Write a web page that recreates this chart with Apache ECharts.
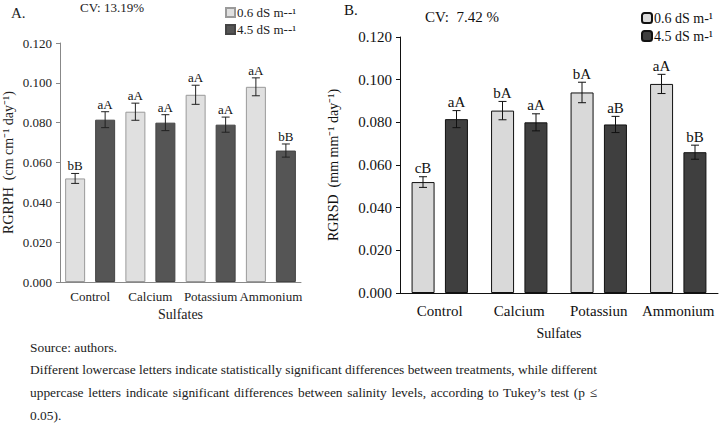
<!DOCTYPE html>
<html>
<head>
<meta charset="utf-8">
<script src="https://cdn.jsdelivr.net/npm/echarts@6/dist/echarts.min.js"></script>
<style>
  html, body { margin: 0; padding: 0; background: #fff; }
  #wrap { position: relative; width: 723px; height: 424px; overflow: hidden; }
  #chart { width: 723px; height: 424px; }
  .cap {
    position: absolute; left: 30px; width: 567px;
    font: 13.4px "Liberation Serif", "Times New Roman", serif; color: #222;
    line-height: 16px; white-space: nowrap;
  }
  .just { text-align: justify; text-align-last: justify; }
</style>
</head>
<body>
<div id="wrap">
  <div id="chart"></div>
  <div class="cap" style="top:340px">Source: authors.</div>
  <div class="cap just" style="top:362px">Different lowercase letters indicate statistically significant differences between treatments, while different</div>
  <div class="cap just" style="top:385px">uppercase letters indicate significant differences between salinity levels, according to Tukey’s test (p ≤</div>
  <div class="cap" style="top:408px">0.05).</div>
</div>
<script>
// categories
const catsA = ['Control', 'Calcium', 'Potassium', 'Ammonium']
const catsB = ['Control', 'Calcium', 'Potassiun', 'Ammonium']
// means (same in both panels)
const lowSalt = [0.052, 0.0855, 0.094, 0.098]
const highSalt = [0.0815, 0.080, 0.079, 0.066]
// error bar half-lengths
const lowErr = [0.0025, 0.0043, 0.0048, 0.0045]
const highErr = [0.004, 0.004, 0.0038, 0.0033]
// letters
const lettersLowA = ['bB', 'aA', 'aA', 'aA']
const lettersHighA = ['aA', 'aA', 'aA', 'bB']
const lettersLowB = ['cB', 'bA', 'bA', 'aA']
const lettersHighB = ['aA', 'aA', 'aB', 'bB']

const serif = '"Liberation Serif", "Times New Roman", serif'

const chart = echarts.init(document.getElementById('chart'), null, { renderer: 'svg' })

function errData(vals, errs, letters) {
  return vals.map((v, i) => [i, v, errs[i], letters[i]])
}

// error bar + significance letters above it
function errRender(offset, cap, color, font) {
  return function (params, api) {
    const c = api.coord([api.value(0), api.value(1)])
    const x = c[0] + offset
    const hi = api.coord([api.value(0), api.value(1) + api.value(2)])[1]
    const lo = api.coord([api.value(0), api.value(1) - api.value(2)])[1]
    const line = { stroke: color, lineWidth: 1 }
    return {
      type: 'group',
      children: [
        { type: 'line', shape: { x1: x, y1: hi, x2: x, y2: lo }, style: line },
        { type: 'line', shape: { x1: x - cap, y1: hi, x2: x + cap, y2: hi }, style: line },
        { type: 'line', shape: { x1: x - cap, y1: lo, x2: x + cap, y2: lo }, style: line },
        {
          type: 'text',
          style: {
            text: api.value(3), x: x, y: hi - 1,
            textAlign: 'center', textVerticalAlign: 'bottom',
            font: font, fill: '#111'
          }
        }
      ]
    }
  }
}

const option = {
  animation: false,
  grid: [
    { left: 53, top: 43, width: 248, height: 239 },
    { left: 400, top: 37, width: 318, height: 256 }
  ],
  legend: [
    {
      data: ['0.6 dS m--¹', '4.5 dS m--¹'],
      orient: 'vertical', left: 220, top: 1, itemGap: 4,
      itemWidth: 9, itemHeight: 9, icon: 'rect',
      textStyle: { fontFamily: serif, fontSize: 13, color: '#222', padding: [0, 0, 0, -3] }
    },
    {
      data: ['0.6 dS m-¹', '4.5 dS m-¹'],
      orient: 'vertical', left: 636, top: 6, itemGap: 4,
      itemWidth: 10, itemHeight: 10, icon: 'roundRect',
      textStyle: { fontFamily: serif, fontSize: 14, color: '#111', padding: [0, 0, 0, -3] }
    }
  ],
  xAxis: [
    {
      type: 'category', gridIndex: 0, data: catsA,
      name: 'Sulfates', nameLocation: 'middle', nameGap: 23,
      nameTextStyle: { fontFamily: serif, fontSize: 14, color: '#222' },
      axisLine: { lineStyle: { color: '#888' } },
      axisTick: { length: 5, lineStyle: { color: '#888' } },
      axisLabel: { fontFamily: serif, fontSize: 13, color: '#222', margin: 8, interval: 0 }
    },
    {
      type: 'category', gridIndex: 1, data: catsB,
      name: 'Sulfates', nameLocation: 'middle', nameGap: 33,
      nameTextStyle: { fontFamily: serif, fontSize: 14, color: '#111' },
      axisLine: { lineStyle: { color: '#111' } },
      axisTick: { length: 5, lineStyle: { color: '#111' } },
      axisLabel: { fontFamily: serif, fontSize: 15, color: '#111', margin: 10, interval: 0 }
    }
  ],
  yAxis: [
    {
      type: 'value', gridIndex: 0, min: 0, max: 0.12, interval: 0.02,
      name: 'RGRPH  (cm cm⁻¹ day⁻¹)', nameLocation: 'middle', nameGap: 45,
      nameTextStyle: { fontFamily: serif, fontSize: 14, color: '#222' },
      axisLine: { show: true, lineStyle: { color: '#888' } },
      axisTick: { show: true, length: 4, lineStyle: { color: '#888' } },
      axisLabel: { fontFamily: serif, fontSize: 13, color: '#222', margin: 8, formatter: v => v.toFixed(3) },
      splitLine: { show: false }
    },
    {
      type: 'value', gridIndex: 1, min: 0, max: 0.12, interval: 0.02,
      name: 'RGRSD  (mm mm⁻¹ day⁻¹)', nameLocation: 'middle', nameGap: 60,
      nameTextStyle: { fontFamily: serif, fontSize: 14, color: '#111' },
      axisLine: { show: true, lineStyle: { color: '#111' } },
      axisTick: { show: true, length: 4, lineStyle: { color: '#111' } },
      axisLabel: { fontFamily: serif, fontSize: 15, color: '#111', margin: 8, formatter: v => v.toFixed(3) },
      splitLine: { show: false }
    }
  ],
  series: [
    {
      name: '0.6 dS m--¹', type: 'bar', xAxisIndex: 0, yAxisIndex: 0,
      data: lowSalt, barWidth: 20, barGap: '50%',
      itemStyle: { color: '#e0e0e0', borderColor: '#9a9a9a', borderWidth: 1 }
    },
    {
      name: '4.5 dS m--¹', type: 'bar', xAxisIndex: 0, yAxisIndex: 0,
      data: highSalt, barWidth: 20, barGap: '50%',
      itemStyle: { color: '#555555', borderColor: '#444', borderWidth: 1 }
    },
    {
      name: '0.6 dS m-¹', type: 'bar', xAxisIndex: 1, yAxisIndex: 1,
      data: lowSalt, barWidth: 23, barGap: '45%',
      itemStyle: { color: '#d9d9d9', borderColor: '#111', borderWidth: 1 }
    },
    {
      name: '4.5 dS m-¹', type: 'bar', xAxisIndex: 1, yAxisIndex: 1,
      data: highSalt, barWidth: 23, barGap: '45%',
      itemStyle: { color: '#3f3f3f', borderColor: '#111', borderWidth: 1 }
    },
    {
      type: 'custom', xAxisIndex: 0, yAxisIndex: 0, z: 10,
      data: errData(lowSalt, lowErr, lettersLowA),
      renderItem: errRender(-15, 4, '#222', '13px ' + serif)
    },
    {
      type: 'custom', xAxisIndex: 0, yAxisIndex: 0, z: 10,
      data: errData(highSalt, highErr, lettersHighA),
      renderItem: errRender(15, 4, '#222', '13px ' + serif)
    },
    {
      type: 'custom', xAxisIndex: 1, yAxisIndex: 1, z: 10,
      data: errData(lowSalt, lowErr, lettersLowB),
      renderItem: errRender(-16.75, 4, '#111', '15px ' + serif)
    },
    {
      type: 'custom', xAxisIndex: 1, yAxisIndex: 1, z: 10,
      data: errData(highSalt, highErr, lettersHighB),
      renderItem: errRender(16.75, 4, '#111', '15px ' + serif)
    }
  ],
  graphic: [
    { type: 'text', left: 11, top: 5, style: { text: 'A.', font: '15px ' + serif, fill: '#222' } },
    { type: 'text', left: 80, top: 1, style: { text: 'CV: 13.19%', font: '13px ' + serif, fill: '#222' } },
    { type: 'text', left: 344, top: 2, style: { text: 'B.', font: '15px ' + serif, fill: '#111' } },
    { type: 'text', left: 425, top: 9, style: { text: 'CV:  7.42 %', font: '15px ' + serif, fill: '#111' } }
  ]
}

chart.setOption(option)
</script>
</body>
</html>
